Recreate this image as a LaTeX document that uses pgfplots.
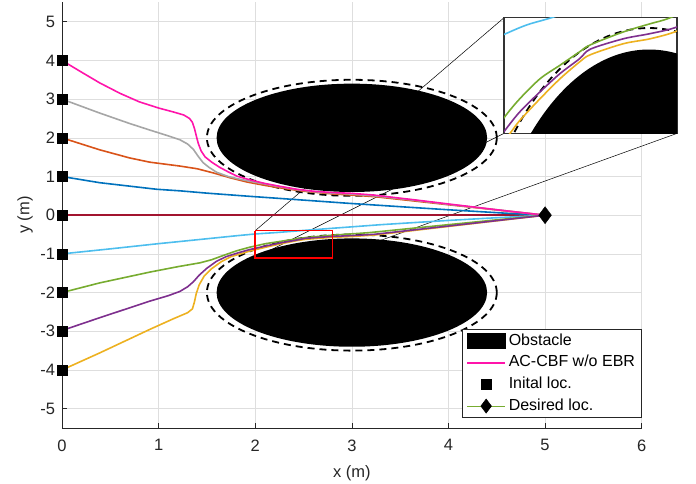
\documentclass[border=0pt]{standalone}
\usepackage{fontspec}
\setmainfont{Liberation Sans}
\usepackage{pgfplots}
\pgfplotsset{compat=1.18}
\usepackage{pgfplotstable}

\definecolor{axisgray}{rgb}{0.15,0.15,0.15}
\definecolor{gridgray}{rgb}{0.87,0.87,0.87}
\definecolor{cMag}{RGB}{255,20,170}
\definecolor{cGray}{RGB}{166,166,166}
\definecolor{cOrange}{HTML}{D95319}
\definecolor{cBlue}{HTML}{0072BD}
\definecolor{cDRed}{HTML}{A2142F}
\definecolor{cLBlue}{HTML}{4DBEEE}
\definecolor{cGreen}{HTML}{77AC30}
\definecolor{cPurple}{HTML}{7E2F8E}
\definecolor{cYellow}{HTML}{EDB120}

\pgfplotstableread{
x y
0 4
0.2 3.70
0.39 3.42
0.6 3.15
0.8 2.93
1.0 2.77
1.15 2.67
1.26 2.59
1.32 2.50
1.35 2.40
1.37 2.25
1.39 2.05
1.41 1.86
1.44 1.66
1.48 1.51
1.55 1.37
1.63 1.24
1.72 1.12
1.81 1.01
1.95 0.91
2.1 0.82
2.27 0.74
2.43 0.67
2.6 0.62
2.8 0.585
3.0 0.565
3.23 0.52
3.5 0.44
3.64 0.40
4.0 0.29
4.3 0.20
4.64 0.10
5 0
}\tMag

\pgfplotstableread{
x y
0 3
0.39 2.64
0.7 2.37
0.91 2.20
1.1 2.05
1.22 1.95
1.30 1.84
1.36 1.70
1.41 1.52
1.46 1.36
1.52 1.24
1.60 1.11
1.72 1.00
1.84 0.93
2.0 0.85
2.2 0.76
2.43 0.66
2.6 0.61
2.8 0.57
3.0 0.545
3.23 0.50
3.6 0.40
4.0 0.28
4.5 0.14
5 0
}\tGray

\pgfplotstableread{
x y
0 2
0.39 1.69
0.7 1.48
0.91 1.37
1.22 1.27
1.40 1.20
1.57 1.09
1.75 0.96
1.91 0.86
2.1 0.77
2.3 0.69
2.5 0.62
2.8 0.55
3.0 0.52
3.23 0.48
3.6 0.38
4.0 0.27
4.5 0.135
5 0
}\tOrange

\pgfplotstableread{
x y
0 1
0.39 0.84
0.98 0.67
1.22 0.63
1.5 0.57
1.93 0.49
2.5 0.39
2.95 0.31
3.5 0.22
4.0 0.14
4.64 0.045
5 0
}\tBlue

\pgfplotstableread{
x y
0 0
5 0
}\tDRed

\pgfplotstableread{
x y
0 -1
0.5 -0.87
1.0 -0.735
1.22 -0.68
1.81 -0.53
2.0 -0.485
2.21 -0.45
2.6 -0.375
3.3 -0.245
4.0 -0.135
4.5 -0.065
5 0
}\tLBlue

\pgfplotstableread{
x y
0 -2
0.39 -1.75
0.91 -1.47
1.2 -1.33
1.43 -1.23
1.55 -1.15
1.67 -1.04
1.81 -0.918
1.94 -0.829
2.106 -0.736
2.27 -0.673
2.43 -0.611
2.52 -0.578
2.79 -0.518
3.01 -0.48
3.17 -0.453
3.5 -0.37
4.0 -0.245
4.5 -0.12
5 0
}\tGreen

\pgfplotstableread{
x y
0 -2.98
0.39 -2.65
0.91 -2.22
1.1 -2.08
1.22 -1.97
1.30 -1.85
1.36 -1.72
1.42 -1.55
1.50 -1.37
1.60 -1.19
1.70 -1.07
1.82 -0.975
1.94 -0.89
2.106 -0.797
2.27 -0.712
2.43 -0.643
2.52 -0.598
2.79 -0.55
3.01 -0.526
3.23 -0.495
3.5 -0.42
4.0 -0.28
4.5 -0.14
5 0
}\tPurple

\pgfplotstableread{
x y
0 -4
0.39 -3.56
0.91 -2.95
1.15 -2.68
1.30 -2.52
1.35 -2.42
1.37 -2.25
1.39 -2.02
1.42 -1.80
1.47 -1.58
1.55 -1.38
1.65 -1.20
1.75 -1.07
1.86 -0.99
1.94 -0.93
2.106 -0.829
2.27 -0.736
2.43 -0.658
2.52 -0.624
2.79 -0.573
3.01 -0.55
3.23 -0.514
3.5 -0.436
4.0 -0.29
4.5 -0.145
5 0
}\tYellow

\pgfplotstableread{
x y
0 4
0 3
0 2
0 1
0 0
0 -1
0 -2
0 -3
0 -4
}\tStart

\pgfplotsset{
  traj/.style={line width=1.6pt, forget plot},
}
\tikzset{
  dashcirc/.style={black, line width=1.8pt, dash pattern=on 7pt off 5pt},
}

\begin{document}
\begin{tikzpicture}
\begin{axis}[
  at={(62pt,56pt)}, anchor=south west,
  scale only axis, width=579.7pt, height=425.6pt,
  xmin=0, xmax=6, ymin=-5.5, ymax=5.5,
  xtick={0,1,2,3,4,5,6}, ytick={-5,-4,-3,-2,-1,0,1,2,3,4,5},
  axis lines=left, axis line style={-, color=axisgray, line width=0.8pt},
  tick align=inside, major tick length=5pt, tick style={axisgray, line width=0.6pt},
  grid=major, grid style={gridgray, line width=0.6pt},
  clip=false,
  /pgf/number format/assume math mode=true,
  tick label style={font=\fontsize{16.5}{19}\selectfont, text=axisgray},
  xticklabel style={yshift=-8pt},
  yticklabel style={xshift=-3.5pt},
  xlabel={x (m)}, ylabel={y (m)},
  label style={font=\fontsize{16.5}{19}\selectfont, text=axisgray},
  xlabel style={at={(axis description cs:0.5,-0.1057)}, anchor=center},
  ylabel style={at={(axis description cs:-0.0638,0.5)}, anchor=center},
  legend cell align=left,
  legend image code/.code={\draw[mark repeat=2,mark phase=2,#1] plot coordinates {(0pt,0pt) (19pt,0pt) (38pt,0pt)};},
  legend style={at={(axis description cs:1,0.0228)}, anchor=south east,
    draw=axisgray, line width=0.8pt, fill=white,
    font=\fontsize{16}{19}\selectfont, inner xsep=3.5pt, inner ysep=1pt,
    nodes={text height=12pt, text depth=4pt, inner sep=2.8pt}},
]
% legend entries
\addlegendimage{legend image code/.code={\fill[black] (0pt,-7.5pt) rectangle (38pt,7.5pt);}}
\addlegendentry{Obstacle}
\addlegendimage{cMag, line width=1.6pt}
\addlegendentry{AC-CBF w/o EBR}
\addlegendimage{only marks, mark=square*, mark size=5pt, black}
\addlegendentry{Inital loc.}
\addlegendimage{cGreen, line width=0.6pt, mark=diamond*, mark size=7pt, mark options={black, fill=black, solid}}
\addlegendentry{Desired loc.}

% zoom connector lines
\addplot[black, line width=0.5pt, forget plot] coordinates {(4.580,5.115) (2,-0.4)};
\addplot[black, line width=0.5pt, forget plot] coordinates {(4.580,2.121) (2,-1.1)};
\addplot[black, line width=0.5pt, forget plot] coordinates {(6.373,2.121) (2.8,-1.1)};

% obstacles
\fill[black] (axis cs:3,2) ellipse [x radius=1.4, y radius=1.4];
\fill[black] (axis cs:3,-2) ellipse [x radius=1.4, y radius=1.4];
\draw[dashcirc] (axis cs:3,2) ellipse [x radius=1.5, y radius=1.5];
\draw[dashcirc] (axis cs:3,-2) ellipse [x radius=1.5, y radius=1.5];

% trajectories
\addplot[traj, cDRed] table {\tDRed};
\addplot[traj, cBlue] table {\tBlue};
\addplot[traj, cOrange] table {\tOrange};
\addplot[traj, cGray] table {\tGray};
\addplot[traj, cMag] table {\tMag};
\addplot[traj, cLBlue] table {\tLBlue};
\addplot[traj, cYellow] table {\tYellow};
\addplot[traj, cGreen] table {\tGreen};
\addplot[traj, cPurple] table {\tPurple};

% markers
\addplot[only marks, mark=square*, mark size=5pt, black, forget plot] table {\tStart};
\addplot[only marks, mark=diamond*, mark size=8.5pt, black, mark options={fill=black}, forget plot] coordinates {(5,0)};

% zoom rectangle
\addplot[red, line width=1.5pt, forget plot] coordinates {(2,-0.4) (2.8,-0.4) (2.8,-1.1) (2,-1.1) (2,-0.4)};
\end{axis}

% inset
\begin{axis}[
  at={(504pt,350.7pt)}, anchor=south west,
  scale only axis, width=173pt, height=116pt,
  xmin=1.81, xmax=3.23, ymin=-0.99, ymax=-0.45,
  xtick=\empty, ytick=\empty,
  axis background/.style={fill=white},
  axis line style={black!80, line width=1.2pt},
]
\fill[black] (axis cs:3,-2) ellipse [x radius=1.4, y radius=1.4];
\draw[dashcirc] (axis cs:3,-2) ellipse [x radius=1.5, y radius=1.5];
\addplot[traj, cLBlue, smooth] table {\tLBlue};
\addplot[traj, cYellow, smooth] table {\tYellow};
\addplot[traj, cGreen, smooth] table {\tGreen};
\addplot[traj, cPurple, smooth] table {\tPurple};
\end{axis}

\pgfresetboundingbox
\path[use as bounding box] (0,0) rectangle (696pt,484pt);
\end{tikzpicture}
\end{document}
